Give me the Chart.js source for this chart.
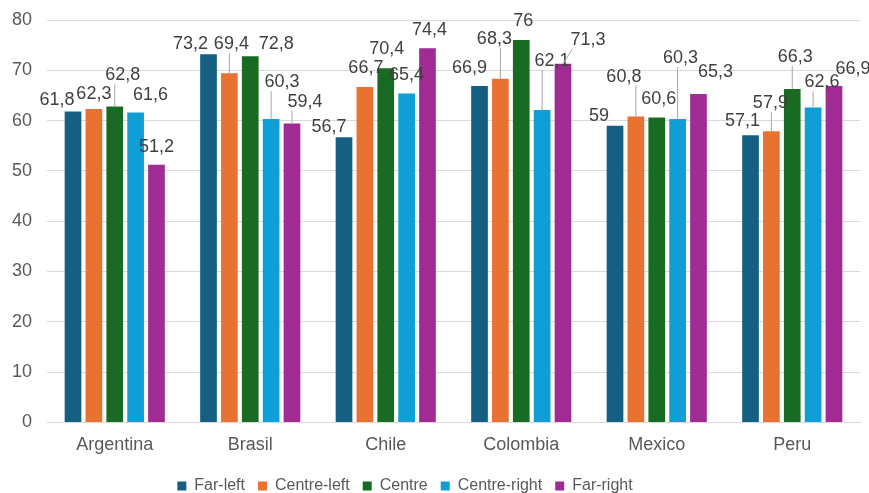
<!DOCTYPE html>
<html><head><meta charset="utf-8">
<script src="https://cdn.jsdelivr.net/npm/chart.js@4.4.1/dist/chart.umd.min.js"></script>
<style>html,body{margin:0;padding:0;background:#fff}#wrap{width:869px;height:493px}</style>
</head><body><div id="wrap"><canvas id="c" width="869" height="493"></canvas></div>
<script>
const categories = ['Argentina', 'Brasil', 'Chile', 'Colombia', 'Mexico', 'Peru'];
const seriesNames = ['Far-left', 'Centre-left', 'Centre', 'Centre-right', 'Far-right'];
const farLeft     = [61.8, 73.2, 56.7, 66.9, 59.0, 57.1];
const centreLeft  = [62.3, 69.4, 66.7, 68.3, 60.8, 57.9];
const centre      = [62.8, 72.8, 70.4, 76.0, 60.6, 66.3];
const centreRight = [61.6, 60.3, 65.4, 62.1, 60.3, 62.6];
const farRight    = [51.2, 59.4, 74.4, 71.3, 65.3, 66.9];
const yTicks = [0, 10, 20, 30, 40, 50, 60, 70, 80];

const colors = ['#156082', '#E97132', '#196B24', '#0F9ED5', '#A02B93'];
const seriesValues = [farLeft, centreLeft, centre, centreRight, farRight];

// label placement (pixel offsets of label centre from bar top, leader line flag)
const labelPlacement = [
  [[-16,-12,0],[-18,-10,0],[-15,-10,0],[-10,-18,0],[-16,-10,0],[-8,-14,0]],
  [[0,-15,0],[2,-29,1],[1,-19,0],[-6,-40,1],[-12,-40,1],[-1,-28,1]],
  [[8,-31,1],[26,-12,0],[1,-19,0],[2,-19,0],[2,-19,0],[3,-32,1]],
  [[15,-18,0],[11,-37,1],[0,-18,0],[10,-49,1],[3,-61,1],[9,-25,1]],
  [[0,-18,0],[13,-22,1],[2,-18,0],[25,-24,1],[17,-22,0],[19,-17,0]]
];

const FONT = "'Liberation Sans', Arial, sans-serif";

const labelPlugin = {
  id: 'dataLabels',
  afterDatasetsDraw(chart) {
    const ctx = chart.ctx;
    ctx.save();
    ctx.font = '18px ' + FONT;
    ctx.textAlign = 'center';
    ctx.textBaseline = 'middle';
    chart.data.datasets.forEach((ds, si) => {
      const meta = chart.getDatasetMeta(si);
      meta.data.forEach((bar, i) => {
        const [dx, dy, leader] = labelPlacement[si][i];
        const txt = String(ds.data[i]).replace('.', ',');
        const cx = bar.x + dx, cy = bar.y + dy;
        if (leader) {
          const w = ctx.measureText(txt).width;
          const left = cx - w / 2 + 2, right = cx + w / 2 - 2;
          const sx = Math.min(Math.max(bar.x, left), right);
          ctx.strokeStyle = '#A6A6A6';
          ctx.lineWidth = 1;
          ctx.beginPath();
          ctx.moveTo(sx, cy + 9);
          ctx.lineTo(bar.x, bar.y);
          ctx.stroke();
        }
        ctx.fillStyle = '#404040';
        ctx.fillText(txt, cx, cy);
      });
    });
    ctx.restore();
  }
};

const legendShift = {
  id: 'legendShift',
  afterLayout(chart) {
    if (chart.legend) { chart.legend.left -= 25; chart.legend.right -= 25; }
  }
};

new Chart(document.getElementById('c'), {
  type: 'bar',
  data: {
    labels: categories,
    datasets: seriesNames.map((name, k) => ({
      label: name,
      data: seriesValues[k],
      backgroundColor: colors[k],
      borderWidth: 0,
      barPercentage: 0.8,
      categoryPercentage: 0.77
    }))
  },
  options: {
    responsive: false,
    animation: false,
    devicePixelRatio: 1,
    layout: { padding: { top: 20, right: 9, left: 0, bottom: -11 } },
    plugins: {
      tooltip: { enabled: false },
      legend: {
        position: 'bottom',
        labels: {
          boxWidth: 9, boxHeight: 9, padding: 13,
          color: '#595959',
          font: { family: FONT, size: 16 }
        }
      }
    },
    scales: {
      x: {
        afterFit(scale) { scale.height -= 3; },
        grid: { display: false, drawTicks: false },
        border: { display: true, color: '#D9D9D9', width: 1 },
        ticks: { color: '#595959', font: { family: FONT, size: 18 }, padding: 12 }
      },
      y: {
        min: 0, max: 80,
        afterBuildTicks(scale) { scale.ticks = yTicks.map(v => ({ value: v })); },
        afterFit(scale) { scale.width = 47; scale.paddingTop = 0; scale.paddingBottom = 0; },
        grid: { color: '#D9D9D9', lineWidth: 1, drawTicks: false },
        border: { display: false },
        ticks: { color: '#595959', font: { family: FONT, size: 18 }, padding: 15 }
      }
    }
  },
  plugins: [labelPlugin, legendShift]
});
</script></body></html>
